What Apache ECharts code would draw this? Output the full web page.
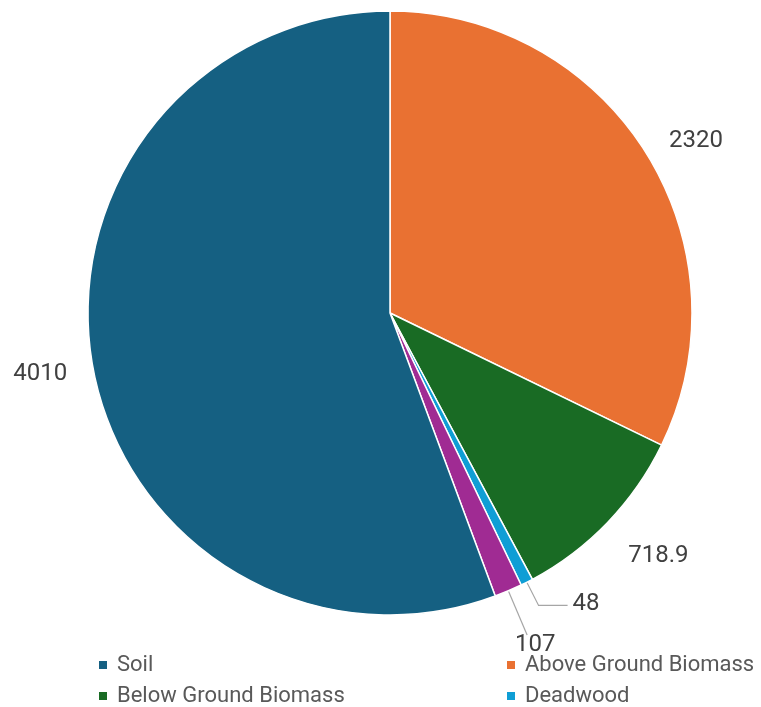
<!DOCTYPE html>
<html>
<head>
<meta charset="utf-8">
<script src="https://cdn.jsdelivr.net/npm/echarts@6/dist/echarts.min.js"></script>
<style>html,body{margin:0;padding:0;background:#fff;}#c{width:761px;height:707px;}</style>
</head>
<body>
<div id="c"></div>
<script>
const categories = ['Above Ground Biomass', 'Below Ground Biomass', 'Deadwood', 'Litter', 'Soil'];
const values = [2320, 718.9, 48, 107, 4010];
const colors = ['#E97132', '#196B24', '#0F9ED5', '#A02B93', '#156082'];
const legendItems = ['Soil', 'Above Ground Biomass', 'Below Ground Biomass', 'Deadwood'];

// label leader-line settings per slice (Excel-like placement)
const lineLen = [26, 44, 26, 48, 22];
const lineLen2 = [0, 0, 29, 0, 0];
const lineShow = [false, false, true, true, false];
const labelDist = [1, -11, 5, 5, 5];
// small label nudges (dx, dy) in pixels
const labelShift = [[0, 2], [0, 3], [0, -1], [-17, 10], [1, 4]];

const data = categories.map((c, i) => ({
  name: c,
  value: values[i],
  itemStyle: { color: colors[i] },
  label: { distanceToLabelLine: labelDist[i] },
  labelLine: { show: lineShow[i], length: lineLen[i], length2: lineLen2[i] }
}));

const legendText = { fontFamily: 'Roboto', fontSize: 22, color: '#595959', padding: [0, 0, 0, 4] };
const legendPos = [[97, 654], [505, 654], [97, 685], [505, 685]];
const legends = legendItems.map((name, i) => ({
  data: [name], left: legendPos[i][0], top: legendPos[i][1], padding: 0,
  icon: 'rect', itemWidth: 10, itemHeight: 10, textStyle: legendText, selectedMode: false
}));

const chart = echarts.init(document.getElementById('c'), null, { renderer: 'canvas' });
chart.setOption({
  animation: false,
  backgroundColor: '#ffffff',
  legend: legends,
  series: [{
    type: 'pie',
    center: [390, 313],
    radius: [0, 302],
    startAngle: 90,
    clockwise: true,
    avoidLabelOverlap: false,
    itemStyle: { borderColor: '#ffffff', borderWidth: 1.5 },
    label: {
      show: true,
      position: 'outside',
      formatter: '{c}',
      fontFamily: 'Roboto',
      fontSize: 24,
      color: '#404040',
      overflow: 'none'
    },
    labelLine: { show: true, lineStyle: { color: '#a6a6a6', width: 1.2 } },
    labelLayout: function (p) {
      const s = labelShift[p.dataIndex];
      return { dx: s[0], dy: s[1] };
    },
    emphasis: { disabled: true },
    data: data
  }]
});
</script>
</body>
</html>
